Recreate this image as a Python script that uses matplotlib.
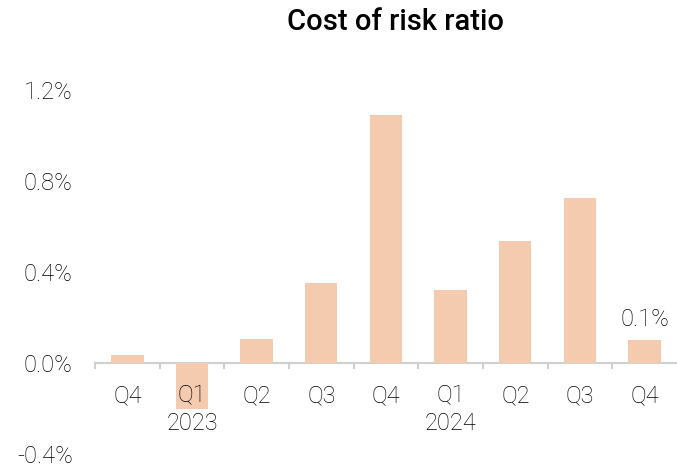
import matplotlib.pyplot as plt
import matplotlib.transforms as mtransforms

# Quarterly cost of risk, in percent
quarters = ['Q4', 'Q1', 'Q2', 'Q3', 'Q4', 'Q1', 'Q2', 'Q3', 'Q4']
years = {1: '2023', 5: '2024'}
cost_of_risk = [0.035, -0.20, 0.105, 0.35, 1.09, 0.32, 0.535, 0.725, 0.10]
yticks = [-0.4, 0.0, 0.4, 0.8, 1.2]

plt.rcParams['font.family'] = ['Roboto', 'DejaVu Sans']
FS = 17

fig = plt.figure(figsize=(6.77, 4.68), dpi=100)
ax = fig.add_axes([95 / 677, 1 - 454 / 468, 582 / 677, 364 / 468])

x = range(len(quarters))
ax.bar(x, cost_of_risk, width=0.5, color='#F5CBB0', zorder=2)

ax.set_xlim(-0.5, len(quarters) - 0.5)
ax.set_ylim(-0.4, 1.2)
ax.set_yticks(yticks)
ax.set_yticklabels([f'{v:.1f}%' for v in yticks], fontsize=FS, fontweight='light',
                   color='black')
ax.tick_params(axis='y', length=0, pad=16)
ax.set_xticks([])

for side in ['top', 'right', 'left', 'bottom']:
    ax.spines[side].set_visible(False)

# zero line with category separators
ax.axhline(0, color='#D0D0D0', lw=1.5, zorder=1)
for b in range(len(quarters)):
    ax.plot([b - 0.5, b - 0.5], [0, -0.022], color='#D0D0D0', lw=1.5,
            clip_on=False, zorder=1)

trans = mtransforms.blended_transform_factory(ax.transData, fig.transFigure)
for i, q in enumerate(quarters):
    ax.text(i, 1 - 396 / 468, q, transform=trans, ha='center', va='center',
            fontsize=FS, fontweight='light', color='black', zorder=3)
for i, yr in years.items():
    ax.text(i, 1 - 423 / 468, yr, transform=trans, ha='center', va='center',
            fontsize=FS, fontweight='light', color='black', zorder=3)

# value label on the latest quarter
ax.text(len(quarters) - 1, cost_of_risk[-1] + 0.09, f'{cost_of_risk[-1]:.1f}%',
        ha='center', va='center', fontsize=FS, fontweight='light', color='black')

fig.text(0.584, 1 - 22 / 468, 'Cost of risk ratio', ha='center', va='center',
         fontsize=21, fontweight='medium')

fig.savefig('out.png', dpi=100)
